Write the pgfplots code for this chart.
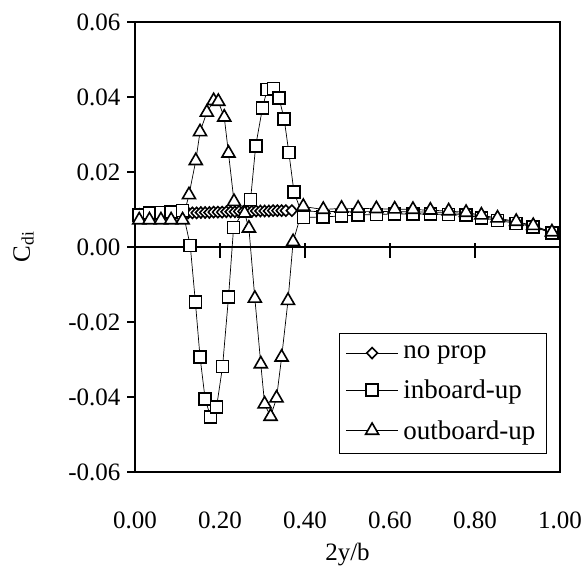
\documentclass[border=0pt]{standalone}
\usepackage{pgfplots}
\usepackage{pgfplotstable}
\pgfplotsset{compat=1.18}
\usepackage{fontspec}
\setmainfont{Liberation Serif}

% spanwise induced drag, no propeller
\pgfplotstableread{
x y
0.010 0.0087
0.034 0.0088
0.061 0.0089
0.085 0.0090
0.112 0.0090
0.125 0.0091
0.135 0.0091
0.145 0.0091
0.155 0.0092
0.165 0.0092
0.175 0.0092
0.185 0.0093
0.195 0.0093
0.205 0.0093
0.215 0.0094
0.225 0.0094
0.235 0.0094
0.245 0.0095
0.255 0.0095
0.265 0.0095
0.275 0.0095
0.285 0.0096
0.295 0.0096
0.305 0.0096
0.315 0.0096
0.325 0.0097
0.335 0.0097
0.345 0.0097
0.355 0.0097
0.369 0.0097
0.396 0.0096
0.443 0.0094
0.486 0.0095
0.525 0.0095
0.568 0.0095
0.611 0.0094
0.654 0.0094
0.695 0.0093
0.738 0.0092
0.779 0.0089
0.815 0.0082
0.853 0.0074
0.897 0.0066
0.937 0.0056
0.981 0.0038
}\noprop

% inboard propeller, up-inboard rotation
\pgfplotstableread{
x y
0.010 0.0085
0.034 0.0090
0.061 0.0092
0.085 0.0094
0.112 0.0097
0.130 0.0004
0.142 -0.0146
0.153 -0.0293
0.165 -0.0405
0.178 -0.0454
0.192 -0.0426
0.206 -0.0319
0.220 -0.0134
0.232 0.0052
0.272 0.0127
0.284 0.0270
0.300 0.0371
0.311 0.0420
0.326 0.0423
0.339 0.0397
0.351 0.0341
0.362 0.0252
0.374 0.0147
0.396 0.0079
0.443 0.0080
0.486 0.0083
0.525 0.0085
0.568 0.0087
0.611 0.0088
0.654 0.0088
0.695 0.0088
0.738 0.0087
0.779 0.0085
0.815 0.0078
0.853 0.0071
0.897 0.0063
0.937 0.0054
0.981 0.0037
}\inboard

% outboard propeller, up-outboard rotation
\pgfplotstableread{
x y
0.010 0.0072
0.034 0.0072
0.061 0.0072
0.085 0.0072
0.112 0.0072
0.127 0.0139
0.143 0.0230
0.153 0.0307
0.169 0.0359
0.185 0.0390
0.196 0.0388
0.210 0.0346
0.220 0.0250
0.233 0.0121
0.258 0.0090
0.268 0.0050
0.282 -0.0137
0.296 -0.0312
0.305 -0.0419
0.319 -0.0452
0.333 -0.0403
0.345 -0.0294
0.360 -0.0143
0.372 0.0014
0.396 0.0108
0.443 0.0100
0.486 0.0103
0.525 0.0103
0.568 0.0102
0.611 0.0101
0.654 0.0100
0.695 0.0098
0.738 0.0096
0.779 0.0092
0.815 0.0085
0.853 0.0077
0.897 0.0068
0.937 0.0057
0.981 0.0040
}\outboard

\begin{document}
\begin{tikzpicture}[font=\fontsize{25}{30}\selectfont]
\path[use as bounding box] (-135pt,-102pt) rectangle (453pt,472pt);

% zero line with its downward tick marks
\begin{axis}[
  scale only axis, width=425pt, height=450pt,
  xmin=0, xmax=1, ymin=-0.06, ymax=0.06,
  axis x line=middle, axis y line=none,
  x axis line style={-, line width=1.1pt},
  xtick={0.2,0.4,0.6,0.8}, xticklabels={},
  ytick=\empty,
  tick align=center, major tick length=14pt,
  xtick style={line width=1.3pt, black, yshift=-3.5pt},
]
\end{axis}

\begin{axis}[
  scale only axis, width=425pt, height=450pt,
  xmin=0, xmax=1, ymin=-0.06, ymax=0.06,
  xtick={0,0.2,0.4,0.6,0.8,1},
  ytick={-0.06,-0.04,-0.02,0,0.02,0.04,0.06},
  xtick style={draw=none},
  ytick pos=left,
  tick align=outside, major tick length=8pt,
  ytick style={line width=1.5pt, black},
  scaled y ticks=false, scaled x ticks=false,
  /pgf/number format/assume math mode=true,
  xticklabel style={/pgf/number format/fixed, /pgf/number format/fixed zerofill,
    /pgf/number format/precision=2, yshift=-28pt},
  yticklabel style={/pgf/number format/fixed, /pgf/number format/fixed zerofill,
    /pgf/number format/precision=2, xshift=-3pt},
  axis line style={line width=2.2pt},
  xlabel={2y/b},
  ylabel={C\textsubscript{di}},
  xlabel style={at={(axis description cs:0.5,-0.184)}, anchor=center},
  ylabel style={at={(axis description cs:-0.262,0.5)}, anchor=center},
  legend cell align=left,
  legend style={at={(rel axis cs:0.969,0.04)}, anchor=south east,
    draw=black, line width=0.8pt, inner xsep=6pt, inner ysep=3pt,
    font=\fontsize{27}{32}\selectfont,
    nodes={inner xsep=5pt, inner ysep=10pt}, row sep=0pt},
  legend image code/.code={
    \draw[mark repeat=2, mark phase=2, #1]
      plot coordinates {(0pt,0pt) (26pt,0pt) (52pt,0pt)};},
  every axis plot/.append style={black, line width=0.7pt},
]
\addplot[mark=diamond*, mark size=5.5pt,
  mark options={solid, fill=white, line width=1.6pt, xscale=1.3}]
  table[x=x, y=y] {\noprop};
\addlegendentry{no prop}
\addplot[mark=square*, mark size=6pt,
  mark options={solid, fill=white, line width=1.6pt}]
  table[x=x, y=y] {\inboard};
\addlegendentry{inboard-up}
\addplot[mark=triangle*, mark size=7.5pt,
  mark options={solid, fill=white, line width=1.6pt}]
  table[x=x, y=y] {\outboard};
\addlegendentry{outboard-up}
\end{axis}
\end{tikzpicture}
\end{document}
